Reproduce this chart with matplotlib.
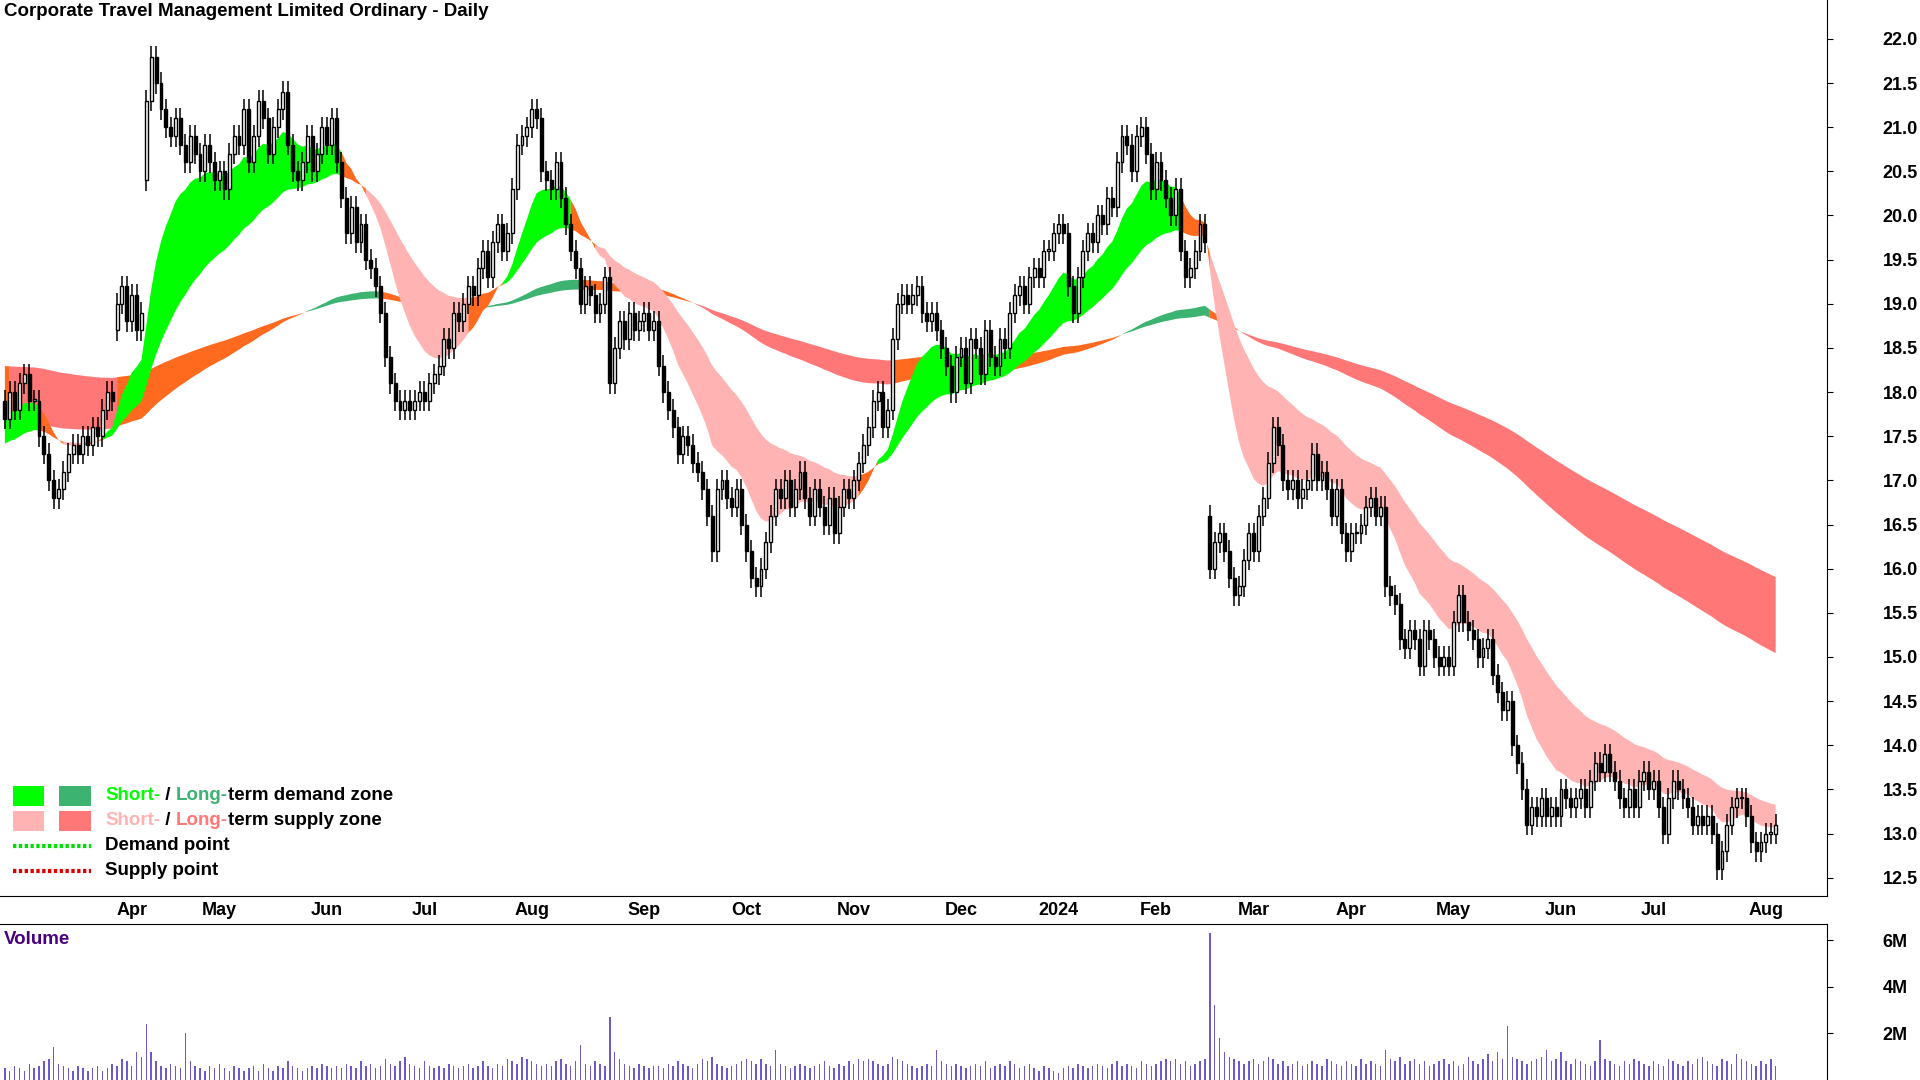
import numpy as np
import matplotlib
matplotlib.use("Agg")
import matplotlib.pyplot as plt
from matplotlib.offsetbox import TextArea, DrawingArea, HPacker, VPacker, AnchoredOffsetbox
from matplotlib.patches import Rectangle
from matplotlib.lines import Line2D

plt.rcParams['font.family'] = ['Liberation Sans', 'DejaVu Sans']
plt.rcParams['font.weight'] = 'bold'

TITLE = "Corporate Travel Management Limited Ordinary - Daily"

# daily closes, by stretch
close_mar23 = [17.7, 18.0, 17.8, 18.1, 18.2, 17.9, 17.9, 17.5, 17.3, 17.0, 16.8, 16.9, 17.1, 17.3, 17.4,
               17.3, 17.5, 17.4, 17.6, 17.5, 17.8, 18.0, 17.9, 19.0, 19.2, 18.8, 19.1, 18.7, 18.9]
close_aprmay23 = [21.3, 21.8, 21.5, 21.2, 21.0, 20.9, 21.1, 20.8, 20.6, 20.9, 20.7, 20.5, 20.8, 20.6,
                  20.4, 20.5, 20.3, 20.7, 20.9, 20.8, 21.2, 20.6, 20.9, 21.3, 21.1, 20.7, 21.0,
                  21.2, 21.4, 20.8, 20.5, 20.4, 20.6, 20.9, 20.5, 20.7, 21.0, 20.8, 21.1]
close_jun23 = [20.6, 20.2, 19.8, 20.1, 19.7, 19.9, 19.5, 19.4, 19.2, 18.9, 18.4, 18.1, 17.9, 17.8,
               17.9, 17.8, 17.9, 18.0, 17.9, 18.1, 18.2]
close_jul23 = [18.3, 18.6, 18.5, 18.9, 18.8, 19.0, 19.2, 19.1, 19.4, 19.6, 19.3, 19.7, 19.9, 19.6,
               19.8, 20.3, 20.8, 20.9, 21.0, 21.2, 21.1, 20.5]
close_aug23 = [20.4, 20.3, 20.6, 20.2, 19.9, 19.6, 19.4, 19.0, 19.2, 19.1, 18.9, 19.0, 19.3, 18.1,
               18.5, 18.8, 18.6, 18.9, 18.7, 18.8, 18.9, 18.7, 18.8]
close_sep23 = [18.3, 18.0, 17.8, 17.6, 17.3, 17.5, 17.4, 17.2, 17.1, 16.9, 16.6, 16.2, 16.9, 17.0,
               16.8, 16.7, 16.9, 16.5, 16.2, 15.9, 15.8]
close_oct23 = [16.0, 16.3, 16.6, 16.9, 16.8, 17.0, 16.7, 16.9, 17.1, 16.8, 16.6, 16.9, 16.7, 16.5,
               16.8, 16.4, 16.7, 16.9, 16.8, 17.0, 17.2, 17.4]
close_nov23 = [17.6, 17.9, 18.0, 17.6, 17.8, 18.6, 19.0, 19.1, 19.0, 19.1, 19.2, 18.9, 18.8, 18.9,
               18.7, 18.5, 18.3, 18.0, 18.4, 18.5, 18.1, 18.6]
close_dec23 = [18.5, 18.2, 18.7, 18.4, 18.3, 18.6, 18.5, 18.9, 19.1, 19.2, 19.0, 19.3, 19.4, 19.3,
               19.6, 19.6, 19.8, 19.9, 19.8]
close_jan24 = [19.2, 18.9, 19.3, 19.6, 19.8, 19.7, 20.0, 19.9, 20.2, 20.1, 20.6, 20.9, 20.8, 20.5,
               20.9, 21.0, 20.7, 20.3, 20.6, 20.4, 20.2]
close_feb24 = [20.0, 20.3, 19.6, 19.3, 19.4, 19.6, 19.9, 19.7]
close_febapr24 = [16.0, 16.3, 16.4, 16.2, 15.9, 15.7, 15.8, 16.1, 16.4, 16.2, 16.6, 16.8, 17.2, 17.6,
                  17.4, 17.0, 16.9, 17.0, 16.8, 16.9, 17.0, 17.3, 17.0, 17.1, 16.9, 16.6, 16.9, 16.4,
                  16.2, 16.4, 16.4, 16.5, 16.7, 16.8, 16.6, 16.7]
close_aprmay24 = [15.8, 15.7, 15.6, 15.2, 15.1, 15.3, 15.2, 14.9, 15.3, 15.2, 15.0, 14.9, 15.0, 14.9,
                  15.4, 15.7, 15.4, 15.3, 15.2, 15.0, 15.1, 15.2, 14.8]
close_junaug24 = [14.6, 14.4, 14.5, 14.0, 13.8, 13.5, 13.1, 13.3, 13.2, 13.4, 13.2, 13.3, 13.2, 13.5,
                  13.4, 13.3, 13.4, 13.5, 13.3, 13.6, 13.8, 13.7, 13.9, 13.7, 13.6, 13.4, 13.3, 13.5,
                  13.3, 13.6, 13.7, 13.5, 13.6, 13.3, 13.0, 13.4, 13.6, 13.5, 13.4, 13.3, 13.1, 13.2,
                  13.1, 13.2, 13.0, 12.6, 12.8, 13.1, 13.3, 13.4, 13.4, 13.2, 12.9, 12.8, 12.9, 13.0,
                  13.0, 13.1]

# opening prices on the gap days (all other days open at the prior close)
gap_days = [23, 29, 247]
gap_opens = [18.7, 20.4, 16.6]

# volume in units of 100k shares
vol_mar23 = [5, 4, 6, 5, 4, 7, 5, 6, 8, 9, 14, 7, 6, 5, 4, 6, 5, 4, 5, 6, 4, 5, 7, 6, 9, 8, 6, 12, 10]
vol_aprmay23 = [24, 12, 8, 6, 5, 7, 6, 5, 20, 8, 6, 5, 4, 6, 5, 7, 5, 4, 6, 5, 4, 5, 6, 4, 7, 5, 4, 6,
                5, 8, 6, 5, 4, 5, 6, 5, 7, 6, 5]
vol_jun23 = [6, 5, 7, 6, 5, 8, 6, 7, 5, 6, 9, 7, 6, 8, 10, 7, 6, 5, 8, 6, 5]
vol_jul23 = [6, 5, 7, 6, 5, 6, 7, 5, 6, 8, 6, 5, 7, 6, 9, 8, 7, 10, 9, 8, 7, 6]
vol_aug23 = [7, 6, 8, 9, 7, 6, 8, 15, 7, 6, 8, 7, 6, 27, 12, 9, 7, 6, 5, 7, 6, 5, 6]
vol_sep23 = [6, 5, 7, 6, 8, 7, 6, 5, 7, 9, 8, 10, 7, 6, 5, 6, 7, 8, 9, 8, 7]
vol_oct23 = [9, 7, 6, 13, 7, 6, 5, 6, 7, 6, 5, 6, 7, 8, 6, 5, 7, 6, 8, 7, 9, 8]
vol_nov23 = [9, 8, 7, 6, 7, 10, 9, 8, 7, 6, 5, 6, 7, 6, 13, 8, 7, 6, 7, 6, 5, 6]
vol_dec23 = [7, 6, 8, 5, 6, 7, 6, 8, 7, 5, 6, 7, 5, 4, 6, 5, 4, 3, 5]
vol_jan24 = [6, 5, 7, 6, 5, 6, 7, 6, 5, 7, 8, 6, 7, 6, 5, 8, 7, 6, 7, 8, 9]
vol_feb24 = [8, 9, 7, 8, 6, 7, 8, 9]
vol_febapr24 = [63, 32, 18, 12, 10, 9, 8, 7, 8, 9, 7, 8, 10, 9, 7, 8, 6, 7, 8, 6, 7, 8, 7, 6, 9, 8,
                7, 6, 8, 7, 6, 9, 7, 8, 7, 6]
vol_aprmay24 = [13, 9, 8, 10, 7, 8, 9, 7, 8, 6, 7, 8, 9, 7, 8, 6, 7, 10, 8, 7, 9, 11, 8]
vol_junaug24 = [12, 9, 23, 10, 9, 8, 7, 8, 9, 10, 13, 8, 9, 12, 8, 7, 9, 8, 7, 6, 8, 17, 9, 8, 7, 6,
                8, 7, 9, 8, 7, 6, 8, 7, 6, 9, 8, 7, 6, 8, 7, 9, 10, 8, 7, 6, 9, 8, 7, 11, 9, 8, 7, 6,
                8, 7, 9, 6]

month_labels = ["Apr", "May", "Jun", "Jul", "Aug", "Sep", "Oct", "Nov", "Dec", "2024",
                "Feb", "Mar", "Apr", "May", "Jun", "Jul", "Aug"]
month_idx = [26, 44, 66, 86, 108, 131, 152, 174, 196, 216, 236, 256, 276, 297, 319, 338, 361]

closes = np.array(close_mar23 + close_aprmay23 + close_jun23 + close_jul23 + close_aug23 +
                  close_sep23 + close_oct23 + close_nov23 + close_dec23 + close_jan24 +
                  close_feb24 + close_febapr24 + close_aprmay24 + close_junaug24)
vols = np.array(vol_mar23 + vol_aprmay23 + vol_jun23 + vol_jul23 + vol_aug23 + vol_sep23 +
                vol_oct23 + vol_nov23 + vol_dec23 + vol_jan24 + vol_feb24 + vol_febapr24 +
                vol_aprmay24 + vol_junaug24) * 1e5
n = min(len(closes), len(vols))
closes, vols = closes[:n], vols[:n]
opens = np.r_[17.9, closes[:-1]]
for d, o in zip(gap_days, gap_opens):
    if d < n:
        opens[d] = o
x = np.arange(n)


def ema(vals, span, seed):
    a = 2.0 / (span + 1)
    out = np.empty(len(vals))
    prev = seed
    for i, v in enumerate(vals):
        prev = prev + a * (v - prev)
        out[i] = prev
    return out


s_fast, s_slow = ema(closes, 14, 17.75), ema(closes, 38, 17.4)
l_fast, l_slow = ema(closes, 140, 17.6), ema(closes, 220, 18.3)

GREEN, DGREEN = "#00ff00", "#3cb371"
PINK, RED = "#ffb3b3", "#ff7777"
ORANGE = "#ff6a1f"

fig = plt.figure(figsize=(19.2, 10.8), dpi=100)
ax = fig.add_axes([0, 0.1701, 0.9515, 0.8299])
axv = fig.add_axes([0, 0, 0.9515, 0.144])


def band(fast, slow, up_col, down_col):
    rising = np.r_[True, np.diff(slow) >= 0]
    state = np.where((fast >= slow) & rising, 1, np.where((fast < slow) & ~rising, -1, 0))
    for val, col in [(1, up_col), (-1, down_col), (0, ORANGE)]:
        m = state == val
        m = m | np.r_[False, m[:-1]]
        ax.fill_between(x, fast, slow, where=m, color=col, lw=0, zorder=1)


band(l_fast, l_slow, DGREEN, RED)
band(s_fast, s_slow, GREEN, PINK)

highs = np.maximum(opens, closes) + 0.12
lows = np.minimum(opens, closes) - 0.12
ax.vlines(x, lows, highs, color="black", lw=1.1, zorder=2)
up = closes >= opens
body = np.maximum(np.abs(closes - opens), 0.02)
ax.bar(x[up], body[up], bottom=np.minimum(opens, closes)[up], width=0.6,
       color="white", edgecolor="black", lw=1.0, zorder=3)
ax.bar(x[~up], body[~up], bottom=np.minimum(opens, closes)[~up], width=0.6,
       color="black", edgecolor="black", lw=1.0, zorder=3)

xmax = n - 1 + 10.5
ax.set_xlim(-1, xmax)
ax.set_ylim(12.29, 22.44)
ax.yaxis.tick_right()
ax.set_yticks(np.arange(12.5, 22.01, 0.5))
ax.set_yticklabels(["%.1f" % v for v in np.arange(12.5, 22.01, 0.5)])
ax.tick_params(axis="y", length=4, pad=36, labelsize=13)
ax.set_xticks(month_idx)
ax.set_xticklabels(month_labels)
ax.tick_params(axis="x", length=0, pad=4, labelsize=13)
for s in ["top", "left"]:
    ax.spines[s].set_visible(False)
ax.text(0.002, 0.997, TITLE, transform=ax.transAxes, ha="left", va="top", fontsize=13.5, fontweight="bold")

axv.bar(x, vols, width=0.3, color="#6a5acd", zorder=2)
axv.set_xlim(-1, xmax)
axv.set_ylim(0, 6.68e6)
axv.yaxis.tick_right()
axv.set_yticks([2e6, 4e6, 6e6])
axv.set_yticklabels(["2M", "4M", "6M"])
axv.tick_params(axis="y", length=4, pad=36, labelsize=13)
axv.set_xticks([])
for s in ["bottom", "left"]:
    axv.spines[s].set_visible(False)
axv.text(0.002, 0.96, "Volume", transform=axv.transAxes, ha="left", va="top",
         fontsize=13.5, fontweight="bold", color="#4b0082")


def swatches(c1, c2):
    da = DrawingArea(66, 14)
    da.add_artist(Rectangle((0, 0), 22, 14, color=c1, lw=0))
    da.add_artist(Rectangle((33, 0), 23, 14, color=c2, lw=0))
    return da


def dotted(col):
    da = DrawingArea(66, 14)
    da.add_artist(Line2D([0, 56], [7, 7], color=col, lw=3, ls=(0, (0.8, 0.6))))
    return da


def txt(s, col="black"):
    return TextArea(s, textprops=dict(color=col, fontsize=13.5, fontweight="bold"))


rows = [
    HPacker(children=[swatches(GREEN, DGREEN), txt("Short-", GREEN), txt(" / "), txt("Long-", DGREEN),
                      txt("term demand zone")], sep=0, align="center"),
    HPacker(children=[swatches(PINK, RED), txt("Short-", PINK), txt(" / "), txt("Long-", RED),
                      txt("term supply zone")], sep=0, align="center"),
    HPacker(children=[dotted("#00dd00"), txt("Demand point")], sep=0, align="center"),
    HPacker(children=[dotted("#dd0000"), txt("Supply point")], sep=0, align="center"),
]
box = VPacker(children=rows, sep=4, align="left")
anch = AnchoredOffsetbox(loc="upper left", child=box, frameon=False, pad=0, borderpad=0,
                         bbox_to_anchor=(0.007, 0.272), bbox_transform=fig.transFigure)
fig.add_artist(anch)

fig.savefig("out.png", dpi=100)
